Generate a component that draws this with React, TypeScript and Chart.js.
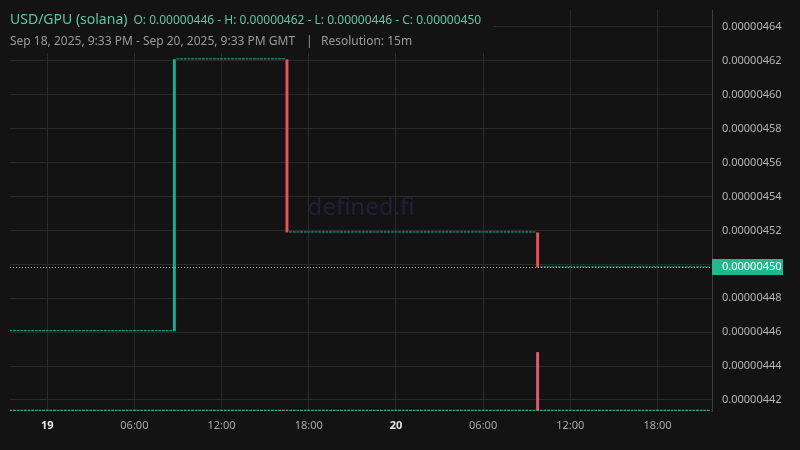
import { useEffect, useRef } from "react";
import { Chart, registerables } from "chart.js";

Chart.register(...registerables);

// ---- Data (hours measured from Sep 19, 2025 00:00 GMT) ----
const levelPrices = [0.0000044606, 0.0000046209, 0.0000045188, 0.0000044982];
const levelStartHours = [-2.5, 8.75, 16.5, 33.75];
const lastCandleHour = 45.5;
const candleStepHours = 0.25; // 15m resolution
const volumeSpikeHours = [33.75];
const volumeSpikeValues = [14.7];
const baseVolume = 0.3;

const xTickHours = [0, 6, 12, 18, 24, 30, 36, 42];
const xTickLabels = ["19", "06:00", "12:00", "18:00", "20", "06:00", "12:00", "18:00"];
const xDayLabels = ["19", "20"];
const yTickValues = [
  0.00000442, 0.00000444, 0.00000446, 0.00000448, 0.0000045, 0.00000452,
  0.00000454, 0.00000456, 0.00000458, 0.0000046, 0.00000462, 0.00000464,
];

const titleText = "USD/GPU (solana)";
const ohlcText = "O: 0.00000446 - H: 0.00000462 - L: 0.00000446 - C: 0.00000450";
const rangeText = "Sep 18, 2025, 9:33 PM - Sep 20, 2025, 9:33 PM GMT";
const resolutionText = "Resolution: 15m";
const watermarkText = "defined.fi";

const BG = "#131313";
const GRID = "#2a2a2a";
const UP = "#22ab94";
const DOWN = "#f0505a";
const FONT = "'Noto Sans', 'Open Sans', sans-serif";

type Candle = { t: number; open: number; close: number; volume: number };

function buildCandles(): Candle[] {
  const out: Candle[] = [];
  let prevClose = levelPrices[0];
  const n = Math.round((lastCandleHour - levelStartHours[0]) / candleStepHours);
  for (let i = 0; i <= n; i++) {
    const t = levelStartHours[0] + i * candleStepHours;
    let lv = 0;
    for (let j = 0; j < levelStartHours.length; j++) {
      if (t >= levelStartHours[j] - 1e-9) lv = j;
    }
    const close = levelPrices[lv];
    let volume = baseVolume;
    volumeSpikeHours.forEach((h, k) => {
      if (Math.abs(h - t) < 1e-9) volume = volumeSpikeValues[k];
    });
    out.push({ t, open: prevClose, close, volume });
    prevClose = close;
  }
  return out;
}

export default function App() {
  const canvasRef = useRef<HTMLCanvasElement | null>(null);

  useEffect(() => {
    document.body.style.margin = "0";
    document.body.style.background = BG;
    const candles = buildCandles();
    const last = candles[candles.length - 1];

    const bgPlugin = {
      id: "bg",
      beforeDraw(chart: any) {
        const { ctx, width, height } = chart;
        ctx.save();
        ctx.fillStyle = BG;
        ctx.fillRect(0, 0, width, height);
        ctx.restore();
      },
      beforeDatasetsDraw(chart: any) {
        const { ctx, chartArea } = chart;
        ctx.save();
        // header backdrop covering grid lines
        ctx.fillStyle = BG;
        ctx.fillRect(0, 0, 493, 53);
        // watermark
        ctx.fillStyle = "#221f3a";
        ctx.font = `24px ${FONT}`;
        ctx.textAlign = "center";
        ctx.textBaseline = "middle";
        ctx.fillText(watermarkText, (chartArea.left + chartArea.right) / 2, (chartArea.top + chartArea.bottom) / 2 - 2);
        ctx.restore();
      },
      afterDatasetsDraw(chart: any) {
        const { ctx, chartArea } = chart;
        const y = Math.round(chart.scales.y.getPixelForValue(last.close)) + 0.5;
        ctx.save();
        ctx.strokeStyle = "rgba(170, 205, 195, 0.85)";
        ctx.lineWidth = 1;
        ctx.setLineDash([1, 2]);
        ctx.beginPath();
        ctx.moveTo(chartArea.left, y);
        ctx.lineTo(chartArea.right, y);
        ctx.stroke();
        ctx.restore();
      },
      afterDraw(chart: any) {
        const { ctx, chartArea } = chart;
        ctx.save();
        // header
        ctx.textBaseline = "alphabetic";
        ctx.textAlign = "left";
        ctx.fillStyle = "#5cc8a2";
        ctx.font = `14px ${FONT}`;
        ctx.fillText(titleText, 10, 24);
        const tw = ctx.measureText(titleText).width;
        ctx.font = `12px ${FONT}`;
        ctx.fillText(ohlcText, 10 + tw + 6, 24);
        ctx.fillStyle = "#9a9a9a";
        ctx.fillText(rangeText, 10, 45);
        ctx.fillText("|", 306, 45);
        ctx.fillText(resolutionText, 321, 45);
        // last price label
        const y = chart.scales.y.getPixelForValue(last.close);
        ctx.fillStyle = "#20b98e";
        ctx.fillRect(chartArea.right, Math.round(y) - 8, 71, 16);
        ctx.fillStyle = "#ffffff";
        ctx.font = `11px ${FONT}`;
        ctx.textBaseline = "middle";
        ctx.fillText(last.close.toFixed(8), chartArea.right + 10, Math.round(y));
        ctx.restore();
      },
    };

    const chart = new Chart(canvasRef.current as HTMLCanvasElement, {
      type: "bar",
      data: {
        datasets: [
          {
            label: "Price",
            data: candles.map((c) => ({ x: c.t, y: [Math.min(c.open, c.close), Math.max(c.open, c.close)] })) as any,
            backgroundColor: candles.map((c) => (c.close >= c.open ? UP : DOWN)),
            borderWidth: 0,
            minBarLength: 1,
            barPercentage: 0.8,
            categoryPercentage: 1,
            grouped: false,
            yAxisID: "y",
            order: 1,
          },
          {
            label: "Volume",
            data: candles.map((c) => ({ x: c.t, y: c.volume })) as any,
            backgroundColor: candles.map((c) =>
              c.close >= c.open ? "rgba(72, 190, 160, 0.85)" : "rgba(236, 96, 120, 0.95)"
            ),
            borderWidth: 0,
            minBarLength: 1,
            barPercentage: 0.8,
            categoryPercentage: 1,
            grouped: false,
            yAxisID: "v",
            order: 2,
          },
        ],
      },
      options: {
        responsive: false,
        animation: false,
        devicePixelRatio: 1,
        layout: { padding: { left: 10, top: 10, right: 0, bottom: 0 } },
        plugins: { legend: { display: false }, tooltip: { enabled: false } },
        scales: {
          x: {
            type: "linear",
            min: -2.56,
            max: 45.75,
            offset: false,
            afterBuildTicks: (scale: any) => {
              scale.ticks = xTickHours.map((v) => ({ value: v }));
            },
            afterFit: (scale: any) => {
              scale.height = 39;
              scale.paddingLeft = 0;
              scale.paddingRight = 0;
            },
            grid: { color: GRID, drawTicks: false, lineWidth: 1, offset: false },
            border: { display: false },
            ticks: {
              autoSkip: false,
              maxRotation: 0,
              padding: 8,
              callback: (_v: any, i: number) => xTickLabels[i],
              color: (ctx: any) => (xDayLabels.includes(xTickLabels[ctx.index]) ? "#e6e6e6" : "#a8a8a8"),
              font: (ctx: any) => ({
                family: FONT,
                size: 11,
                weight: xDayLabels.includes(xTickLabels[ctx.index]) ? "bold" : "normal",
              }),
            },
          },
          y: {
            type: "linear",
            position: "right",
            min: 0.0000044135,
            max: 0.00000465,
            afterBuildTicks: (scale: any) => {
              scale.ticks = yTickValues.map((v) => ({ value: v }));
            },
            afterFit: (scale: any) => {
              scale.width = 88;
              scale.paddingTop = 0;
              scale.paddingBottom = 0;
            },
            grid: { color: GRID, drawTicks: false, lineWidth: 1 },
            border: { display: true, color: "#3e3e3e" },
            ticks: {
              padding: 10,
              color: "#b4b4b4",
              font: { family: FONT, size: 11 },
              callback: (v: any) => Number(v).toFixed(8),
            },
          },
          v: {
            type: "linear",
            display: false,
            min: 0,
            max: 100,
          },
        },
      },
      plugins: [bgPlugin],
    } as any);

    return () => chart.destroy();
  }, []);

  return (
    <div style={{ width: 800, height: 450, background: BG }}>
      <canvas ref={canvasRef} width={800} height={450} style={{ display: "block" }} />
    </div>
  );
}
